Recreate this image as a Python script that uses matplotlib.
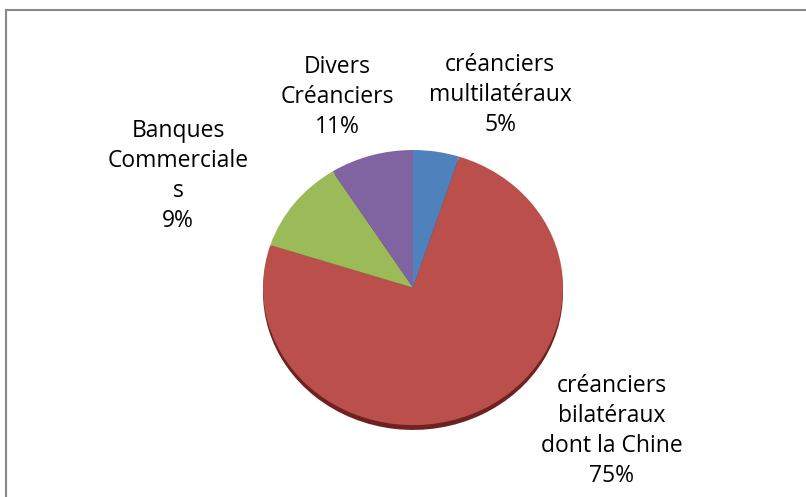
import matplotlib.pyplot as plt
from matplotlib.patches import Rectangle
import numpy as np

# data, in slice order (clockwise from 12 o'clock)
categories = ["créanciers\nmultilatéraux", "créanciers\nbilatéraux\ndont la Chine",
              "Banques\nCommerciale\ns", "Divers\nCréanciers"]
values = [5, 75, 11, 9]
pct_labels = ["5%", "75%", "9%", "11%"]
colors = ["#4F81BD", "#BA4F4B", "#9BBB59", "#8064A2"]
edge_colors = ["#2E4C70", "#6E2220", "#5C7035", "#4C3B60"]

W, H = 806, 497
fig = plt.figure(figsize=(W / 100, H / 100), dpi=100)
plt.rcParams['font.family'] = ['Open Sans', 'DejaVu Sans']

# chart border
fig.patches.append(Rectangle((6 / W, -0.1), 1.2, 1 - 10 / H + 0.1, transform=fig.transFigure,
                             fill=False, edgecolor="#888888", linewidth=1.5))

# pie area (ellipse, slightly flattened like the 3D excel pie)
x0, x1, ytop, ybot = 263, 563, 150, 432
ax = fig.add_axes([x0 / W, 1 - ybot / H, (x1 - x0) / W, (ybot - ytop) / H])

# thin dark side under the pie
ax.pie(values, colors=edge_colors, startangle=90, counterclock=False, radius=1,
       center=(0, -0.035), wedgeprops=dict(linewidth=0), frame=True)
ax.pie(values, colors=colors, startangle=90, counterclock=False, radius=1,
       center=(0, 0), wedgeprops=dict(linewidth=0), frame=True)
ax.set_xlim(-1, 1)
ax.set_ylim(-1.05, 1)
ax.set_aspect('auto')
ax.axis('off')

# label centres in pixels
label_pos = [(500, 95), (612, 431), (178, 176), (337, 97)]
for name, pct, (px, py) in zip(categories, pct_labels, label_pos):
    fig.text(px / W, 1 - py / H, name + "\n" + pct, ha='center', va='center',
             fontsize=16.5, linespacing=1.33, color="#000000")

fig.savefig("out.png", dpi=100)
